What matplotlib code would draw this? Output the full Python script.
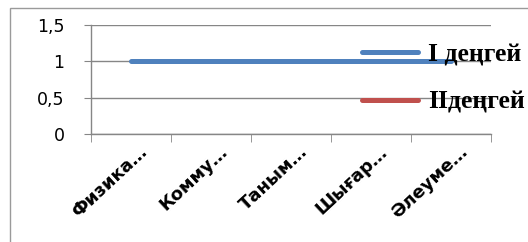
import numpy as np
import matplotlib
matplotlib.use("Agg")
from matplotlib import pyplot as plt
from matplotlib.patches import Rectangle
from matplotlib.transforms import ScaledTranslation

# categories and series
categories = ["Физика…", "Комму…", "Таным…", "Шығар…", "Әлеуме…"]
level1 = [1, 1, 1, 1, 1]
level2 = [np.nan, np.nan, np.nan, np.nan, np.nan]
series_names = ["I деңгей", "IIдеңгей"]
yticks = [0, 0.5, 1, 1.5]
ytick_labels = ["0", "0,5", "1", "1,5"]

W, H = 528, 242
fig = plt.figure(figsize=(W / 100, H / 100), dpi=100)

# outer chart border
fig.patches.append(Rectangle((10 / W, -0.1), 1.2, (H - 8) / H + 0.1, transform=fig.transFigure,
                             fill=False, edgecolor="#9a9a9a", linewidth=1))

ax = fig.add_axes([91 / W, (H - 134) / H, 400 / W, 109 / H])
x = np.arange(len(categories))

ax.plot(x, level1, color="#4f81bd", linewidth=3.6, solid_capstyle="round", label=series_names[0], zorder=3)
ax.plot(x, level2, color="#c0504d", linewidth=3.6, solid_capstyle="round", label=series_names[1], zorder=3)

ax.set_xlim(-0.5, len(categories) - 0.5)
ax.set_ylim(0, 1.5)

grey = "#868686"
for s in ["top", "right"]:
    ax.spines[s].set_visible(False)
for s in ["left", "bottom"]:
    ax.spines[s].set_color(grey)
    ax.spines[s].set_linewidth(1)

ax.set_yticks(yticks)
ax.set_yticklabels(ytick_labels, family="DejaVu Sans", fontsize=12.5)
ax.tick_params(axis="y", length=5, color=grey, pad=14)
ax.yaxis.grid(True, color=grey, linewidth=1)
ax.set_axisbelow(True)

ax.set_xticks(x)
ax.set_xticklabels(categories, rotation=43, ha="right", va="center", rotation_mode="anchor",
                   family="DejaVu Sans", fontweight="bold", fontsize=13)
ax.tick_params(axis="x", length=0, pad=11)
for lab in ax.get_xticklabels():
    lab.set_transform(lab.get_transform() + ScaledTranslation(0.14, 0, fig.dpi_scale_trans))
ax.set_xticks(np.arange(-0.5, len(categories)), minor=True)
ax.tick_params(axis="x", which="minor", length=6, color=grey)

leg = ax.legend(loc="upper left", bbox_to_anchor=(362 / W, (H - 43) / H), bbox_transform=fig.transFigure,
                frameon=False, handlelength=2.18, handletextpad=0.39, labelspacing=0.96, borderpad=0,
                borderaxespad=0,
                prop={"family": ["Liberation Serif", "DejaVu Serif"], "weight": "bold", "size": 18.5})
for line in leg.get_lines():
    line.set_linewidth(3.6)
    line.set_solid_capstyle("round")

fig.savefig("out.png", dpi=100)
